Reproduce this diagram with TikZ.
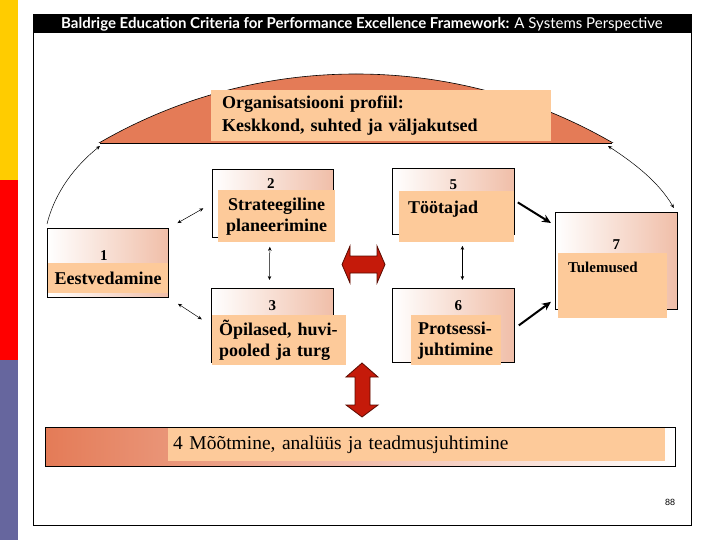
\documentclass[tikz,border=0pt]{standalone}
\usepackage{fontspec}
\setmainfont{Liberation Serif}
\newfontfamily\titlefont{Lato}
\newfontfamily\pagefont{Liberation Sans}
\usetikzlibrary{arrows.meta,calc}

\definecolor{domeorange}{HTML}{E47B57}
\definecolor{fillorange}{HTML}{FDCA9A}
\definecolor{boxpink}{HTML}{F0BEA8}
\definecolor{arrowred}{HTML}{C51A0A}
\definecolor{arrowdark}{HTML}{5A0A00}
\definecolor{baryellow}{HTML}{FFCC00}
\definecolor{barred}{HTML}{FF0000}
\definecolor{barblue}{HTML}{66669E}

\tikzset{
  outerbox/.style={draw, line width=0.8pt, left color=white, right color=boxpink,
    anchor=north west, inner sep=0pt},
  textfill/.style={fill=fillorange, anchor=north west, inner ysep=0pt,
    font=\fontsize{18}{21}\selectfont\bfseries},
  numlabel/.style={font=\fontsize{15}{15}\selectfont\bfseries, inner sep=0pt},
  thinarrow/.style={{Stealth[length=4pt,width=3.5pt]}-{Stealth[length=4pt,width=3.5pt]}, line width=0.5pt},
  thickarrow/.style={-{Stealth[length=9pt,width=8pt]}, line width=2pt},
  redarrow/.style={fill=arrowred, draw=arrowdark, line width=0.8pt, line join=miter}
}

\begin{document}
\begin{tikzpicture}[x=1pt,y=-1pt]
\useasboundingbox (0,0) rectangle (720,540);

% side bar
\fill[baryellow] (0,0) rectangle (18,180);
\fill[barred] (0,180) rectangle (18,360);
\fill[barblue] (0,360) rectangle (18,540);

% frame and title
\fill[black] (33,15) rectangle (691,33);
\draw[line width=1pt] (33,15) rectangle (691,525);
\node[text=white, font=\titlefont\fontsize{15}{15}\selectfont, inner sep=0pt] (title) at (362,24.5)
  {\textbf{Baldrige Education Criteria for Performance Excellence Framework:} A Systems Perspective};

% dome
\coordinate (domeL) at (100,143);
\coordinate (domeR) at (612,143);
\begin{scope}
\clip (0,0) rectangle (720,143);
\filldraw[fill=domeorange, line width=0.6pt] (356,586.5) circle[radius=512.5];
\end{scope}
\draw[line width=0.8pt] (domeL) -- (domeR);

\node[textfill, font=\fontsize{18}{23}\selectfont\bfseries, minimum height=51pt,
  text width=318pt, inner xsep=11pt, align=left] (prof) at (211,90)
  {Organisatsiooni profiil:\\Keskkond, suhted ja väljakutsed};

% boxes
\node[outerbox, minimum width=121pt, minimum height=69pt] (b1) at (47,228) {};
\node[outerbox, minimum width=121pt, minimum height=68pt] (b2) at (212,169) {};
\node[outerbox, minimum width=122pt, minimum height=74pt] (b3) at (211,288) {};
\node[outerbox, minimum width=122pt, minimum height=66pt] (b5) at (392,168) {};
\node[outerbox, minimum width=122pt, minimum height=74pt] (b6) at (392,288) {};
\node[outerbox, minimum width=122pt, minimum height=97pt] (b7) at (555,212) {};
\node[draw, line width=0.8pt, anchor=north west, inner sep=0pt, minimum width=630pt,
  minimum height=39pt, left color=domeorange, middle color=domeorange!35,
  right color=white] (b4) at (45,427) {};

\node[numlabel] (n1) at ([xshift=-4pt,yshift=-28pt]b1.north) {1};
\node[numlabel] (n2) at ([xshift=-2pt,yshift=-15pt]b2.north) {2};
\node[numlabel] (n3) at ([yshift=-18pt]b3.north) {3};
\node[numlabel] (n5) at ([yshift=-17pt]b5.north) {5};
\node[numlabel] (n6) at ([xshift=5pt,yshift=-18pt]b6.north) {6};
\node[numlabel] (n7) at ([yshift=-33pt]b7.north) {7};

\node[textfill, minimum width=120pt, minimum height=30pt, inner xsep=0pt] (t1) at (48,263) {Eestvedamine};
\node[textfill, minimum width=117pt, minimum height=52pt, align=center] (t2) at (218,190)
  {Strateegiline\\planeerimine};
\node[textfill, text width=120pt, inner xsep=7pt, minimum height=50pt, align=left] (t3) at (212,315)
  {Õpilased, huvi-\\pooled ja turg};
\node[textfill, text width=97pt, inner xsep=9pt, text height=22pt, text depth=29pt, align=left] (t5) at (399,191)
  {Töötajad};
\node[textfill, text width=76pt, inner xsep=7pt, minimum height=50pt, align=left] (t6) at (411,315)
  {Protsessi-\\juhtimine};
\node[textfill, font=\fontsize{15}{15}\selectfont\bfseries, text width=89pt, inner xsep=10pt,
  text height=19pt, text depth=46pt, align=left] (t7) at (558,253) {Tulemused};
\node[textfill, font=\fontsize{19.5}{19.5}\selectfont, text width=487pt, inner xsep=5pt,
  minimum height=33pt, align=left] (t4) at (168,428) {4 Mõõtmine, analüüs ja teadmusjuhtimine};

% connectors
\draw[thinarrow, shorten <=10pt, shorten >=10pt] (b1.north east) -- (b2.west);
\draw[thinarrow, shorten <=11pt, shorten >=11pt] (b1.south east) -- (b3.west);
\draw[thinarrow, shorten <=9pt, shorten >=8pt] ([xshift=-3pt]b2.south) -- ([xshift=-3pt]b3.north);
\draw[thinarrow, shorten <=11pt, shorten >=8pt] ([xshift=9pt]b5.south) -- ([xshift=9pt]b6.north);
\draw[thickarrow] ($(b5.east)+(3,1)$) -- ($(b7.north west)+(-4,11)$);
\draw[thickarrow] ($(b6.east)+(4,0)$) -- ($(b7.south west)+(-4,-8)$);

\draw[-{Stealth[length=4pt,width=3.5pt]}, line width=0.5pt] ([yshift=4pt]b1.north west)
  .. controls +(8,-32) and +(-25,20) .. ([yshift=-3pt]domeL);
\draw[thinarrow] ([shift={(-4,3)}]domeR) .. controls +(26,17) and +(-15,-26) .. ([shift={(-4,-4)}]b7.north east);

% red arrows
\draw[redarrow] (342,264.5) -- (350,246) -- (350,256) -- (377,256) -- (377,246) -- (385,264.5)
  -- (377,283) -- (377,273) -- (350,273) -- (350,283) -- cycle;
\draw[redarrow] (362,363) -- (378,377) -- (370,377) -- (370,405) -- (378,405) -- (362,417)
  -- (346,405) -- (355,405) -- (355,377) -- (346,377) -- cycle;

\node[font=\pagefont\fontsize{9}{9}\selectfont, inner sep=0pt] (pg) at (670,502) {88};
\end{tikzpicture}
\end{document}
